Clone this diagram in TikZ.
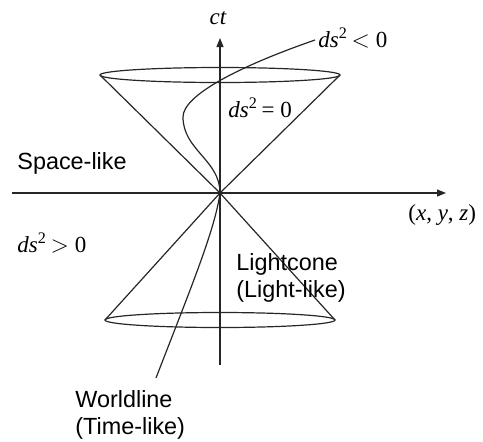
\documentclass[tikz,border=0pt]{standalone}
\usepackage{fontspec}
\setmainfont{Liberation Sans}
\newfontfamily\tms{Liberation Serif}
\usetikzlibrary{arrows.meta}
\newcommand{\dss}[1]{{\tms\itshape ds}\textsuperscript{\tms 2}\,{\tms #1}}
\begin{document}
\begin{tikzpicture}[x=0.5pt,y=-0.5pt,
  ln/.style={line width=0.6pt,draw=black!85},
  axis/.style={ln,-{Triangle[length=4.5pt,width=3.5pt]}},
  lbl/.style={font=\fontsize{11.7}{13}\selectfont,inner sep=0pt,anchor=west},
  mth/.style={font=\fontsize{11.5}{13}\selectfont\tms,inner sep=0pt,anchor=west}]
\useasboundingbox (0,0) rectangle (483,441);
\coordinate (O) at (220,193);
\coordinate (yb) at (220,365);
\coordinate (yt) at (220,38);
\coordinate (xl) at (12,193);
\coordinate (xr) at (446,193);
\coordinate (TL) at (100,75);
\coordinate (TR) at (340,75);
\coordinate (BL) at (105,320);
\coordinate (BR) at (335,320);
\coordinate (W0) at (156,378);
\coordinate (W1) at (315,40);
% axes
\draw[axis] (yb) -- (yt);
\draw[axis] (xl) -- (xr);
% cones
\draw[ln] (TL) -- (O) -- (TR);
\draw[ln] (BL) -- (O) -- (BR);
\draw[ln] (220,75) ellipse [x radius=120, y radius=7.5];
\draw[ln] (220,320) ellipse [x radius=115, y radius=7.5];
% worldline
\draw[ln] (W0) .. controls (190,290) and (215,230) .. (O)
  .. controls (220,160) and (183,150) .. (183,117)
  .. controls (183,95) and (240,66) .. (W1);
% labels
\node[mth,anchor=center] (ct) at (218,18) {\itshape ct};
\node[mth] (lneg) at (318,38) {\dss{$<$ 0}};
\node[mth] (lzero) at (228,108) {\dss{= 0}};
\node[lbl] (space) at (17,163) {Space-like};
\node[mth] (xyz) at (408,215) {(\textit{x}, \textit{y}, \textit{z})};
\node[mth] (lpos) at (17,243) {\dss{$>$ 0}};
\node[lbl] (lc1) at (236,264) {Lightcone};
\node[lbl] (lc2) at (236,291) {(Light-like)};
\node[lbl] (wl1) at (75,399) {Worldline};
\node[lbl] (wl2) at (75,428) {(Time-like)};
\end{tikzpicture}
\end{document}
